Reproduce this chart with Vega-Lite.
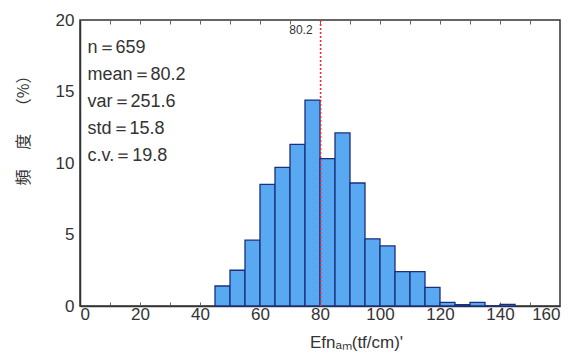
{
  "$schema": "https://vega.github.io/schema/vega-lite/v6.json",
  "autosize": "none",
  "width": 480,
  "height": 286,
  "padding": {"left": 80, "top": 20, "right": 24, "bottom": 47},
  "background": "white",
  "config": {
    "view": {"stroke": "#333", "strokeWidth": 1.5},
    "font": "Liberation Sans",
    "axis": {"grid": false, "domainColor": "#333", "domainWidth": 1.5, "tickColor": "#666", "labelColor": "#333", "titleColor": "#333", "labelFont": "Liberation Sans", "titleFont": "Noto Sans CJK JP", "labelFontSize": 17, "titleFontWeight": "normal"}
  },
  "resolve": {"axis": {"x": "independent"}},
  "datasets": {
    "bins": [
      {"start": 45, "end": 50, "pct": 1.4},
      {"start": 50, "end": 55, "pct": 2.5},
      {"start": 55, "end": 60, "pct": 4.6},
      {"start": 60, "end": 65, "pct": 8.5},
      {"start": 65, "end": 70, "pct": 9.7},
      {"start": 70, "end": 75, "pct": 11.3},
      {"start": 75, "end": 80, "pct": 14.4},
      {"start": 80, "end": 85, "pct": 10.3},
      {"start": 85, "end": 90, "pct": 12.1},
      {"start": 90, "end": 95, "pct": 8.6},
      {"start": 95, "end": 100, "pct": 4.7},
      {"start": 100, "end": 105, "pct": 4.2},
      {"start": 105, "end": 110, "pct": 2.4},
      {"start": 110, "end": 115, "pct": 2.4},
      {"start": 115, "end": 120, "pct": 1.3},
      {"start": 120, "end": 125, "pct": 0.25},
      {"start": 125, "end": 130, "pct": 0.1},
      {"start": 130, "end": 135, "pct": 0.25},
      {"start": 135, "end": 140, "pct": 0.0},
      {"start": 140, "end": 145, "pct": 0.12}
    ],
    "stats": [
      {"x": 2.5, "y": 18.65, "label": ["n＝659", "mean＝80.2", "var＝251.6", "std＝15.8", "c.v.＝19.8"]}
    ],
    "mean": [{"x": 80.2, "y": 19.3, "label": "80.2"}]
  },
  "layer": [
    {
      "data": {"name": "bins"},
      "mark": {"type": "rect", "fill": "#58a9f2", "stroke": "#1b2f7a", "strokeWidth": 1.3},
      "encoding": {
        "x": {"field": "start", "type": "quantitative", "scale": {"domain": [0, 160], "nice": false},
          "axis": {"values": [0, 10, 20, 30, 40, 50, 60, 70, 80, 90, 100, 110, 120, 130, 140, 150, 160], "labelExpr": "datum.value % 20 == 0 ? datum.label : ''", "tickSize": -4, "labelPadding": 4,
            "title": "Efnₐₘ(tf/cm)'", "titleFontSize": 17, "titleX": 276, "titleY": 36, "titleBaseline": "middle", "titleFont": "Liberation Sans"}},
        "x2": {"field": "end"},
        "y": {"field": "pct", "type": "quantitative", "scale": {"domain": [0, 20], "nice": false},
          "axis": {"values": [0, 5, 10, 15, 20], "tickSize": 0, "labelPadding": 6,
            "title": "頻　 度　 （%）", "titleFontSize": 16, "titleAngle": -90, "titleX": -57, "titleY": 106, "titleAlign": "center", "titleBaseline": "middle"}},
        "y2": {"datum": 0}
      }
    },
    {
      "data": {"name": "mean"},
      "mark": {"type": "rule", "color": "#e0303a", "strokeWidth": 1.6, "strokeDash": [2, 2]},
      "encoding": {"x": {"field": "x", "type": "quantitative",
        "axis": {"orient": "top", "values": [0, 10, 20, 30, 40, 50, 60, 70, 80, 90, 100, 110, 120, 130, 140, 150, 160], "labels": false, "title": null, "domain": false, "tickSize": -4}}}
    },
    {
      "data": {"name": "mean"},
      "mark": {"type": "text", "align": "right", "baseline": "middle", "dx": -8, "fontSize": 12, "color": "#333", "font": "Liberation Sans"},
      "encoding": {"x": {"field": "x", "type": "quantitative", "axis": null}, "y": {"field": "y", "type": "quantitative"}, "text": {"field": "label"}}
    },
    {
      "data": {"name": "stats"},
      "mark": {"type": "text", "align": "left", "baseline": "top", "fontSize": 18, "lineHeight": 27, "color": "#333", "font": "Liberation Sans"},
      "encoding": {"x": {"field": "x", "type": "quantitative", "axis": null}, "y": {"field": "y", "type": "quantitative"}, "text": {"field": "label"}}
    }
  ]
}
